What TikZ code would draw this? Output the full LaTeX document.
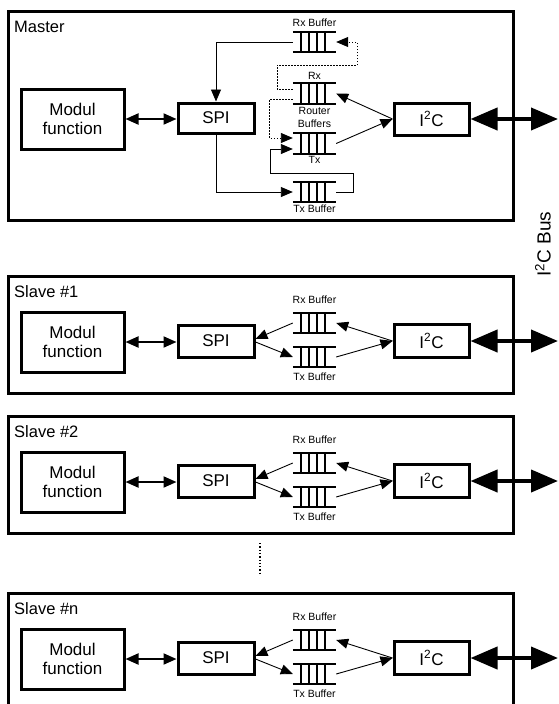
\documentclass[tikz,border=0pt]{standalone}
\usepackage{fontspec}
\setmainfont{Liberation Sans}
\usetikzlibrary{arrows.meta}
\tikzset{
  frame/.style={draw, line width=3pt, rectangle, inner sep=0pt, anchor=north west},
  blk/.style={draw, line width=3pt, rectangle, inner sep=0pt, align=center, font=\fontsize{17}{19}\selectfont},
  buf/.style={rectangle, inner sep=0pt, minimum width=43pt, minimum height=20pt},
  bufline/.style={line width=1.8pt},
  small/.style={font=\fontsize{10.5}{11}\selectfont, inner sep=0pt},
  title/.style={font=\fontsize{16.5}{18}\selectfont, inner sep=0pt, anchor=west},
  conn/.style={line width=0.9pt, -{Triangle[length=12pt,width=10pt]}},
  dotconn/.style={line width=0.9pt, dash pattern=on 1.5pt off 1.5pt, -{Triangle[length=12pt,width=10pt]}},
  dbl/.style={line width=2pt, {Triangle[length=13pt,width=11pt]}-{Triangle[length=13pt,width=11pt]}},
  bus/.style={line width=4pt, {Triangle[length=27pt,width=22pt]}-{Triangle[length=27pt,width=22pt]}},
}
\newcommand\bufdraw[1]{%
  \draw[bufline] (#1.north west) -- (#1.north east) (#1.south west) -- (#1.south east);
  \foreach \dx in {8,16,24,32} \draw[bufline] ([xshift=\dx pt]#1.north west) -- ([xshift=\dx pt]#1.south west);}
\begin{document}
\begin{tikzpicture}[x=1pt,y=-1pt]
\useasboundingbox (0,0) rectangle (558,704);
% ---------- Master ----------
\node[frame, minimum width=505pt, minimum height=209pt] (mframe) at (7,10) {};
\node[title] (mtitle) at (14,27) {Master};
\node[blk, minimum width=103pt, minimum height=60pt] (mmod) at (72.5,119) {Modul\\function};
\node[blk, minimum width=76pt, minimum height=30pt] (mspi) at (216,118) {SPI};
\node[blk, minimum width=75pt, minimum height=32pt] (mi2c) at (431.5,119) {I\textsuperscript{2}C};
\node[buf] (mrxb) at (314.5,42) {};
\node[buf] (mrxr) at (314.5,93.5) {};
\node[buf] (mtxr) at (314.5,143.5) {};
\node[buf] (mtxb) at (314.5,192) {};
\bufdraw{mrxb}\bufdraw{mrxr}\bufdraw{mtxr}\bufdraw{mtxb}
\node[small] (lrxb) at (314.5,23) {Rx Buffer};
\node[small] (lrx) at (314.5,76) {Rx};
\node[small] (lrouter) at (314.5,111) {Router};
\node[small] (lbuffers) at (314.5,124) {Buffers};
\node[small] (ltx) at (314.5,160) {Tx};
\node[small] (ltxb) at (314.5,209) {Tx Buffer};
\draw[dbl] (mmod.east) -- (mmod.east -| mspi.west);
\draw[conn] (mrxb.west) -| (mspi.north);
\draw[conn] (mspi.south) |- (mtxb.west);
\draw[conn] (mtxb.east) -- ++(17,0) |- (270,173) |- ([yshift=-5.5pt]mtxr.west);
\draw[dotconn] ([yshift=4.5pt]mrxr.west) -| (277,65) -| ([xshift=21pt]mrxb.east) -- (mrxb.east);
\draw[dotconn] ([yshift=-5.5pt]mrxr.west) -| ([xshift=-23pt,yshift=5.5pt]mtxr.west) -- ([yshift=5.5pt]mtxr.west);
\draw[conn] (mi2c.west) -- (mrxr.east);
\draw[conn] (mtxr.east) -- (mi2c.west);
\coordinate (mbus) at (558,119);
\draw[bus] (mi2c.east) -- (mbus);
% ---------- Bus label ----------
\node[rotate=90, font=\fontsize{19}{21}\selectfont, inner sep=0pt] (buslabel) at (543,244) {I\textsuperscript{2}C Bus};
% ---------- Slaves ----------
\foreach \T/\n/\k in {275/1/a, 415/2/b, 592/n/c}{
  \node[frame, minimum width=505pt, minimum height=117pt] (frame\k) at (7,\T) {};
  \node[title] (title\k) at (14,\T+17) {Slave \#\n};
  \node[blk, minimum width=103pt, minimum height=60pt] (mod\k) at (72.5,\T+67) {Modul\\function};
  \node[blk, minimum width=76pt, minimum height=32pt] (spi\k) at (216,\T+66) {SPI};
  \node[blk, minimum width=75pt, minimum height=33pt] (i2c\k) at (431.5,\T+66) {I\textsuperscript{2}C};
  \node[buf] (rx\k) at (314.5,\T+48) {};
  \node[buf] (tx\k) at (314.5,\T+82) {};
  \bufdraw{rx\k}\bufdraw{tx\k}
  \node[small] (lrx\k) at (314.5,\T+25) {Rx Buffer};
  \node[small] (ltx\k) at (314.5,\T+102) {Tx Buffer};
  \draw[dbl] (mod\k.east) -- (mod\k.east -| spi\k.west);
  \draw[conn] (rx\k.west) -- ([yshift=2pt]spi\k.east);
  \draw[conn] ([yshift=-1pt]spi\k.east) -- (tx\k.west);
  \draw[conn] (i2c\k.west) -- (rx\k.east);
  \draw[conn] (tx\k.east) -- (i2c\k.west);
  \coordinate (bus\k) at (558,\T+66);
  \draw[bus] (i2c\k.east) -- (bus\k);
}
% ---------- ellipsis ----------
\draw[line width=1.3pt, dotted] (260,543) -- (260,574);
\end{tikzpicture}
\end{document}
